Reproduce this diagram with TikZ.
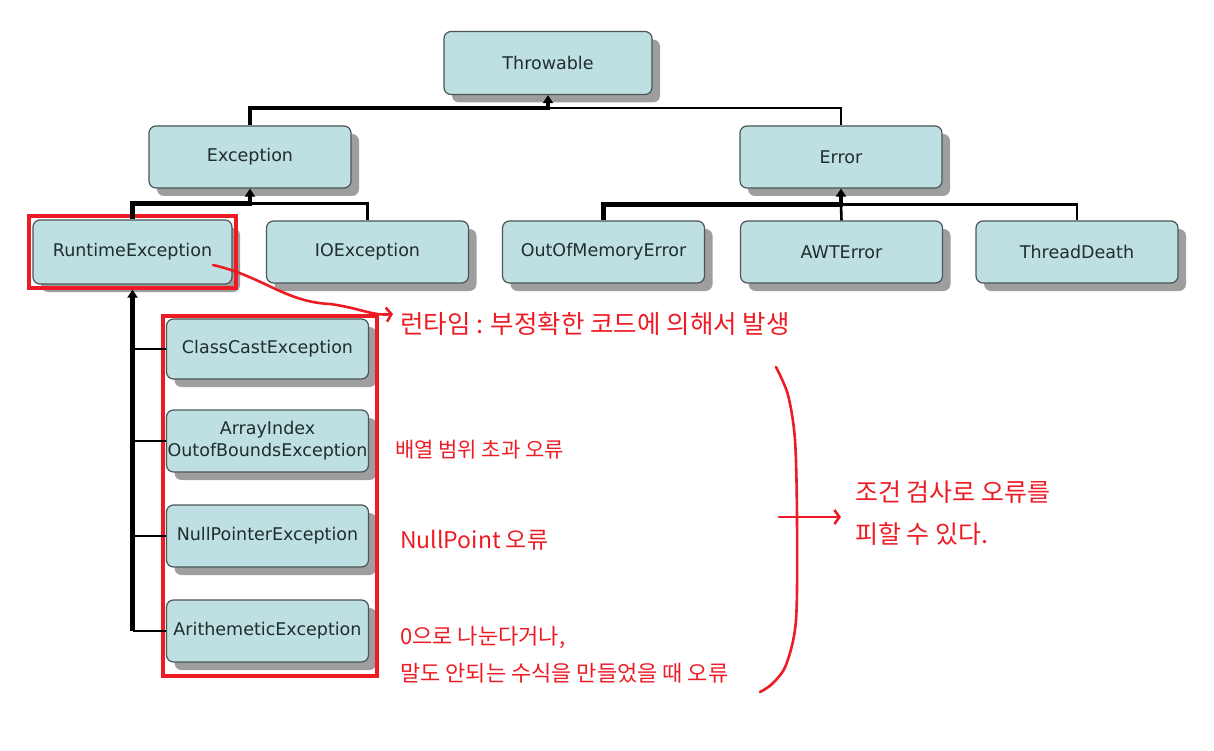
\documentclass[tikz,border=0pt]{standalone}
\usepackage{fontspec}
\setmainfont{DejaVu Sans}
\newfontfamily\kor{Noto Sans CJK KR}
\usepackage{tikz}
\usetikzlibrary{arrows.meta,positioning,shadows,fit,calc}
\definecolor{boxteal}{HTML}{BEE0E3}
\definecolor{boxline}{HTML}{4A5656}
\definecolor{boxshadow}{HTML}{9E9E9E}
\definecolor{boxtext}{HTML}{1F2D2D}
\definecolor{markred}{HTML}{ED1C24}

\begin{document}
\begin{tikzpicture}[x=1pt,y=-1pt,
  cls/.style={draw=boxline,line width=1.2pt,fill=boxteal,rounded corners=7pt,
    minimum width=202pt,minimum height=62pt,inner sep=1pt,text=boxtext,
    font=\fontsize{17.5}{20}\selectfont,
    drop shadow={shadow xshift=8pt,shadow yshift=-8pt,fill=boxshadow,opacity=1}},
  link/.style={line width=2.6pt},
  mainlink/.style={line width=4.6pt},
  inherit/.style={{Triangle[width=10pt,length=8pt]}-},
  redframe/.style={draw=markred,line width=4pt},
  redpen/.style={draw=markred,line width=2.6pt,line cap=round,line join=round},
  note/.style={text=markred,inner sep=0pt,anchor=west,align=left}]
  \useasboundingbox (0,0) rectangle (1214,751);

  % class boxes
  \node[cls,minimum width=208pt,minimum height=63pt] (thr) at (548,63) {Throwable};
  \node[cls] (exc) at (250,157) {Exception};
  \node[cls] (err) at (841,157) {Error};

  \node[cls,minimum width=199pt,minimum height=64pt] (rt) at (132.5,252) {RuntimeException};
  \node[cls] (io) at (367.5,252) {IOException};
  \node[cls] (oom) at (603.5,252) {OutOfMemoryError};
  \node[cls] (awt) at (841.5,252) {AWTError};
  \node[cls] (td) at (1077,252) {ThreadDeath};

  \node[cls,minimum height=60pt] (cce) at (267.5,349) {ClassCastException};
  \node[cls,align=center,font=\fontsize{17.5}{22}\selectfont] (aioob) at (267.5,441) {ArrayIndex\\OutofBoundsException};
  \node[cls] (npe) at (267.5,536) {NullPointerException};
  \node[cls] (ari) at (267.5,631) {ArithemeticException};

  % red frames
  \node[redframe,fit=(rt),inner sep=3pt] (rtframe) {};
  \draw[redframe] ($(cce.north west)+(-3,-2)$) rectangle ($(ari.south east)+(8,13)$);

  % inheritance lines
  \draw[mainlink,inherit] (thr.south) -- ++(0,13) -| (exc.north);
  \draw[link] (thr.south) ++(0,13) -| (err.north);

  \draw[mainlink,inherit] (exc.south) -- ++(0,15) -| (rt.north);
  \draw[link] (exc.south) ++(0,15) -| (io.north);

  \draw[mainlink,inherit] (err.south) -- ++(0,16) -| (oom.north);
  \draw[link] (err.south) ++(0,16) -| (td.north);
  \draw[link] (err.south) ++(0,16) -- (awt.north);

  \draw[mainlink,inherit] (rtframe.south) -- (rtframe.south |- ari.west);
  \foreach \k in {cce,aioob,npe,ari}
    \draw[link] (rtframe.south |- \k.west) -- (\k.west);

  % notes
  \node[note,font=\kor\fontsize{25.5}{30}\selectfont] (rtnote) at (400,324) {런타임 : 부정확한 코드에 의해서 발생};
  \node[note,font=\kor\fontsize{21}{24}\selectfont] (arrnote) at (395,450) {배열 범위 초과 오류};
  \node[note,font=\kor\fontsize{23}{27}\selectfont] (npnote) at (400,540) {NullPoint 오류};
  \node[note,font=\kor\fontsize{22}{37}\selectfont] (divnote) at (400,655) {0으로 나눈다거나,\\말도 안되는 수식을 만들었을 때 오류};
  \node[note,font=\kor\fontsize{25}{42}\selectfont] (concl) at (855,513) {조건 검사로 오류를\\피할 수 있다.};

  % hand marks
  \coordinate (rtmark) at (213,265);
  \draw[redpen,-{Straight Barb[length=5pt,width=14pt]}] (rtmark) .. controls (262,276) and (285,302) .. (330,304)
    .. controls (360,308) and (372,316) .. ($(rtnote.west)+(-7,-10)$);
  \draw[redpen] plot[smooth] coordinates {(776,367) (788,395) (795,440) (797,520) (796,620) (786,665) (772,684) (760,692)};
  \coordinate (bracemid) at (779,517);
  \draw[redpen,-{Straight Barb[length=5pt,width=14pt]}] (bracemid) -- ($(bracemid -| concl.west)+(-14,0)$);
\end{tikzpicture}
\end{document}
